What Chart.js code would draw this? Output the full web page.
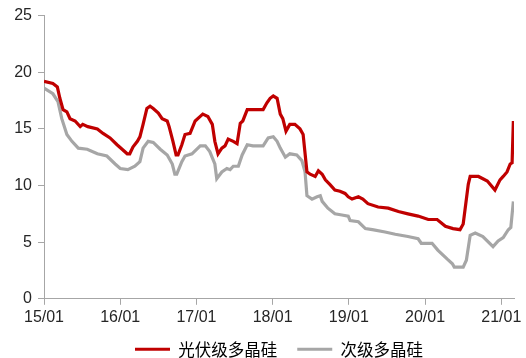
<!DOCTYPE html>
<html>
<head>
<meta charset="utf-8">
<script src="https://cdn.jsdelivr.net/npm/chart.js@4/dist/chart.umd.min.js"></script>
<style>
  html, body { margin: 0; padding: 0; background: #ffffff; }
  #wrap { width: 526px; height: 358px; position: relative; }
</style>
</head>
<body>
<div id="wrap"><canvas id="c"></canvas></div>
<script>
// Polysilicon price series, x = months since Jan 2015
const seriesNames = ['光伏级多晶硅', '次级多晶硅'];
const xTickLabels = ['15/01', '16/01', '17/01', '18/01', '19/01', '20/01', '21/01'];
const yTickValues = [0, 5, 10, 15, 20, 25];

const pvMonths = [0,1.4,2.1,2.5,3.0,3.6,4.1,4.9,5.7,6.1,6.9,8.4,9.3,10.4,11.5,12.3,13.1,13.5,14.0,14.7,15.1,15.6,16.2,16.7,17.2,18.0,18.6,19.4,19.7,20.3,20.8,21.1,21.7,22.2,23.0,23.8,24.6,25.0,25.8,26.5,26.9,27.4,28.0,28.5,29.0,29.8,30.4,30.9,31.3,32.0,32.9,34.5,35.1,35.6,36.1,36.7,37.2,37.6,38.1,38.7,39.5,40.3,40.8,41.4,41.9,42.7,43.2,43.8,44.3,45.0,45.8,46.6,47.4,47.9,48.5,49.5,50.2,51.0,52.6,54.2,55.8,57.3,58.9,60.5,61.9,63.2,64.4,65.5,66.0,66.8,67.1,68.4,69.8,71.0,71.8,72.3,72.9,73.4,73.7,73.9];
const pvPrice  = [19.2,19.0,18.7,17.7,16.7,16.5,15.9,15.7,15.2,15.4,15.2,15.0,14.6,14.2,13.6,13.2,12.8,12.8,13.4,13.9,14.3,15.4,16.8,17.0,16.8,16.4,15.9,15.7,15.2,13.9,12.7,12.7,13.6,14.5,14.6,15.7,16.1,16.3,16.1,15.4,13.9,12.8,13.3,13.5,14.1,13.9,13.7,15.5,15.7,16.7,16.7,16.7,17.3,17.7,17.9,17.7,16.3,15.9,14.8,15.4,15.4,15.0,14.5,11.2,11.0,10.8,11.3,11.0,10.5,10.1,9.6,9.5,9.3,9.0,8.8,9.0,8.8,8.4,8.1,8.0,7.7,7.5,7.3,7.0,7.0,6.4,6.2,6.1,6.6,10.1,10.8,10.8,10.4,9.6,10.5,10.8,11.2,11.9,12.0,15.7];

const subMonths = [0,1.4,2.2,2.8,3.6,4.4,5.4,6.8,8.4,9.9,11.2,12.0,13.2,14.3,15.1,15.6,16.4,17.2,18.3,19.4,20.2,20.6,20.9,21.7,22.2,23.3,24.6,25.4,26.1,26.9,27.2,28.0,28.8,29.3,29.8,30.6,31.2,32.0,32.9,34.5,35.3,36.1,36.7,37.2,38.0,38.7,39.8,40.6,41.1,41.4,42.2,43.0,43.5,43.8,44.7,45.8,46.9,47.9,48.2,49.5,50.6,51.7,53.7,55.3,57.3,58.9,59.4,61.1,62.0,63.5,64.3,64.6,66.0,66.5,67.1,67.9,69.1,70.7,71.5,72.3,73.1,73.5,73.9];
const subPrice  = [18.6,18.1,17.4,15.9,14.5,13.9,13.3,13.2,12.8,12.6,11.9,11.5,11.4,11.7,12.1,13.3,13.9,13.8,13.2,12.7,11.9,11.0,11.0,12.1,12.6,12.8,13.5,13.5,13.0,11.9,10.6,11.2,11.5,11.4,11.7,11.7,12.7,13.6,13.5,13.5,14.2,14.3,13.9,13.3,12.5,12.8,12.7,12.2,11.2,9.1,8.8,9.0,9.1,8.6,8.0,7.5,7.4,7.3,6.9,6.8,6.2,6.1,5.9,5.7,5.5,5.3,4.9,4.9,4.3,3.5,3.1,2.8,2.8,3.4,5.6,5.8,5.5,4.6,5.1,5.4,6.1,6.3,8.6];

const toPoints = (xs, ys) => xs.map((x, i) => ({ x: x, y: ys[i] }));

const axisColor = '#a6a6a6';
const textColor = '#262626';

// Legend sits centred under the plot area rather than the whole canvas
const legendPlacement = {
  id: 'legendPlacement',
  afterLayout(chart) {
    const lg = chart.legend;
    if (!lg) return;
    lg.left = 44;
    lg.top = 321;
  }
};

new Chart(document.getElementById('c'), {
  type: 'line',
  plugins: [legendPlacement],
  data: {
    datasets: [
      {
        label: seriesNames[0],
        data: toPoints(pvMonths, pvPrice),
        borderColor: '#c00000',
        backgroundColor: '#c00000',
        borderWidth: 3.2,
        pointRadius: 0,
        tension: 0
      },
      {
        label: seriesNames[1],
        data: toPoints(subMonths, subPrice),
        borderColor: '#a6a6a6',
        backgroundColor: '#a6a6a6',
        borderWidth: 3.2,
        pointRadius: 0,
        tension: 0
      }
    ]
  },
  options: {
    responsive: true,
    maintainAspectRatio: false,
    animation: false,
    layout: { padding: { left: 0, right: 12, top: 6, bottom: 0 } },
    plugins: {
      tooltip: { enabled: false },
      legend: {
        position: 'bottom',
        maxHeight: 28,
        labels: {
          boxWidth: 35,
          boxHeight: 3,
          padding: 20,
          color: textColor,
          font: { family: '"Noto Sans CJK SC", sans-serif', size: 16.5 },
          generateLabels: (chart) => chart.data.datasets.map((ds, i) => ({
            text: ds.label,
            fillStyle: ds.borderColor,
            strokeStyle: ds.borderColor,
            lineWidth: 0,
            hidden: false,
            datasetIndex: i
          }))
        }
      }
    },
    scales: {
      x: {
        type: 'linear',
        min: 0,
        max: 74,
        afterBuildTicks: (scale) => {
          scale.ticks = xTickLabels.map((_, i) => ({ value: i * 12 }));
        },
        ticks: {
          autoSkip: false,
          maxRotation: 0,
          padding: 3,
          color: textColor,
          font: { family: '"Liberation Sans", Arial, sans-serif', size: 16 },
          callback: (v) => xTickLabels[Math.round(v / 12)]
        },
        grid: { drawOnChartArea: false, drawTicks: true, tickLength: 6, tickColor: axisColor },
        border: { display: true, color: axisColor, width: 1 }
      },
      y: {
        min: 0,
        max: 25,
        afterBuildTicks: (scale) => {
          scale.ticks = yTickValues.map((v) => ({ value: v }));
        },
        afterFit: (scale) => { scale.width = 44; },
        ticks: {
          padding: 6,
          color: textColor,
          font: { family: '"Liberation Sans", Arial, sans-serif', size: 16 }
        },
        grid: { drawOnChartArea: false, drawTicks: true, tickLength: 6, tickColor: axisColor },
        border: { display: true, color: axisColor, width: 1 }
      }
    }
  }
});
</script>
</body>
</html>
